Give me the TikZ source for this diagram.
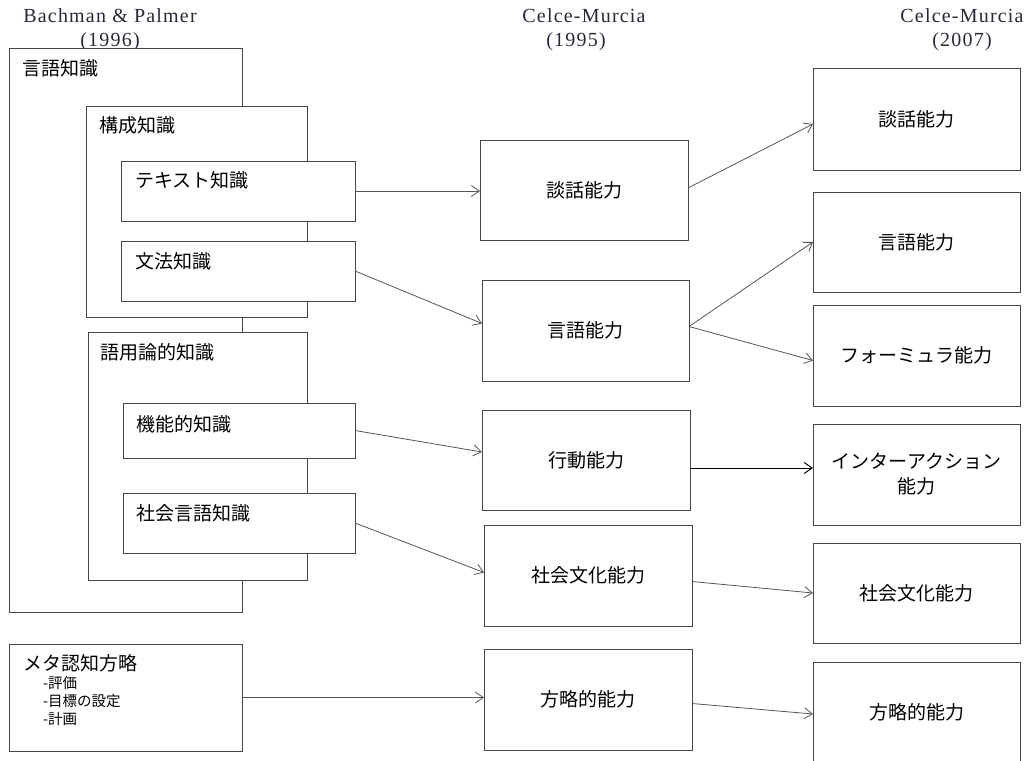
\documentclass[tikz,border=0pt]{standalone}
\usepackage{fontspec}
\setmainfont{Liberation Serif}
\newfontfamily\jp{Noto Sans CJK JP}
\usetikzlibrary{arrows.meta}
\definecolor{boxline}{RGB}{70,70,70}
\definecolor{arrline}{RGB}{85,85,85}
\definecolor{headtxt}{RGB}{40,40,55}
\begin{document}
\begin{tikzpicture}[x=1pt,y=-1pt,
  box/.style={draw=boxline, line width=1pt, fill=white, anchor=north west, inner sep=0pt, outer sep=0pt},
  lbl/.style={font=\jp\fontsize{19}{24}\selectfont, anchor=west, inner sep=0pt},
  ctr/.style={font=\jp\fontsize{19}{25}\selectfont, align=center},
  subitem/.style={font=\jp\fontsize{14.5}{16}\selectfont, anchor=west, inner sep=0pt},
  head/.style={font=\fontsize{20}{23}\selectfont\addfontfeatures{LetterSpace=6}, text=headtxt, anchor=base, inner sep=0pt},
  arr/.style={draw=arrline, line width=0.8pt, -{Straight Barb[length=8pt,width=11pt]}},
]
\useasboundingbox (0,0) rectangle (1027,760);
\clip (0,0) rectangle (1027,760);

% headers
\node[head] (h1) at (110,23) {Bachman \& Palmer};
\node[head] (h1y) at (110,47) {(1996)};
\node[head] (h2) at (584,23) {Celce-Murcia};
\node[head] (h2y) at (576,47) {(1995)};
\node[head] (h3) at (962,23) {Celce-Murcia};
\node[head] (h3y) at (962,47) {(2007)};

% left column
\node[box, minimum width=233pt, minimum height=563pt] (lk) at (9,49) {};
\node[lbl] (lkt) at ([shift={(13,19)}]lk.north west) {言語知識};
\node[box, minimum width=221pt, minimum height=211pt] (ok) at (86,106) {};
\node[lbl] (okt) at ([shift={(13,19)}]ok.north west) {構成知識};
\node[box, minimum width=234pt, minimum height=60pt] (tk) at (121,161) {};
\node[lbl] (tkt) at ([shift={(14,19)}]tk.north west) {テキスト知識};
\node[box, minimum width=234pt, minimum height=60pt] (gk) at (121,241) {};
\node[lbl] (gkt) at ([shift={(14,20)}]gk.north west) {文法知識};
\node[box, minimum width=219pt, minimum height=248pt] (pk) at (88,332) {};
\node[lbl] (pkt) at ([shift={(12,20)}]pk.north west) {語用論的知識};
\node[box, minimum width=232pt, minimum height=55pt] (fk) at (123,403) {};
\node[lbl] (fkt) at ([shift={(13,21)}]fk.north west) {機能的知識};
\node[box, minimum width=232pt, minimum height=60pt] (sk) at (123,493) {};
\node[lbl] (skt) at ([shift={(13,20)}]sk.north west) {社会言語知識};
\node[box, minimum width=233pt, minimum height=107pt] (mk) at (9,644) {};
\node[lbl] (mkt) at ([shift={(14,19)}]mk.north west) {メタ認知方略};
\node[subitem] (mk1) at ([shift={(34,39)}]mk.north west) {-評価};
\node[subitem] (mk2) at ([shift={(34,57)}]mk.north west) {-目標の設定};
\node[subitem] (mk3) at ([shift={(34,75)}]mk.north west) {-計画};

% middle column
\node[box, ctr, minimum width=208pt, minimum height=100pt] (m1) at (480,140) {談話能力};
\node[box, ctr, minimum width=207pt, minimum height=101pt] (m2) at (482,280) {言語能力};
\node[box, ctr, minimum width=208pt, minimum height=100pt] (m3) at (482,410) {行動能力};
\node[box, ctr, minimum width=208pt, minimum height=101pt] (m4) at (484,525) {社会文化能力};
\node[box, ctr, minimum width=208pt, minimum height=101pt] (m5) at (484,649) {方略的能力};

% right column
\node[box, ctr, minimum width=207pt, minimum height=102pt] (r1) at (813,68) {談話能力};
\node[box, ctr, minimum width=207pt, minimum height=100pt] (r2) at (813,192) {言語能力};
\node[box, ctr, minimum width=207pt, minimum height=101pt] (r3) at (813,305) {フォーミュラ能力};
\node[box, ctr, minimum width=207pt, minimum height=101pt] (r4) at (813,424) {インターアクション\\能力};
\node[box, ctr, minimum width=207pt, minimum height=100pt] (r5) at (813,543) {社会文化能力};
\node[box, ctr, minimum width=207pt, minimum height=100pt] (r6) at (813,662) {方略的能力};

% connectors
\coordinate (m3out) at ([yshift=-8pt]m3.east);
\draw[arr] (tk.east) -- (m1.west |- tk.east);
\draw[arr] (gk.east) -- ([yshift=7pt]m2.west);
\draw[arr] ([yshift=2pt]m1.east) -- ([yshift=-5pt]r1.west);
\draw[arr] ([yshift=4pt]m2.east) -- (r2.west);
\draw[arr] ([yshift=4pt]m2.east) -- ([yshift=-5pt]r3.west);
\draw[arr] (fk.east) -- ([yshift=8pt]m3.west);
\draw[arr, draw=black, line width=1pt] (m3out) -- (r4.west |- m3out);
\draw[arr] (sk.east) -- ([yshift=3pt]m4.west);
\draw[arr] ([yshift=-6pt]m4.east) -- (r5.west);
\draw[arr] (mk.east) -- (m5.west |- mk.east);
\draw[arr] ([yshift=-4pt]m5.east) -- ([yshift=-2pt]r6.west);
\end{tikzpicture}
\end{document}
